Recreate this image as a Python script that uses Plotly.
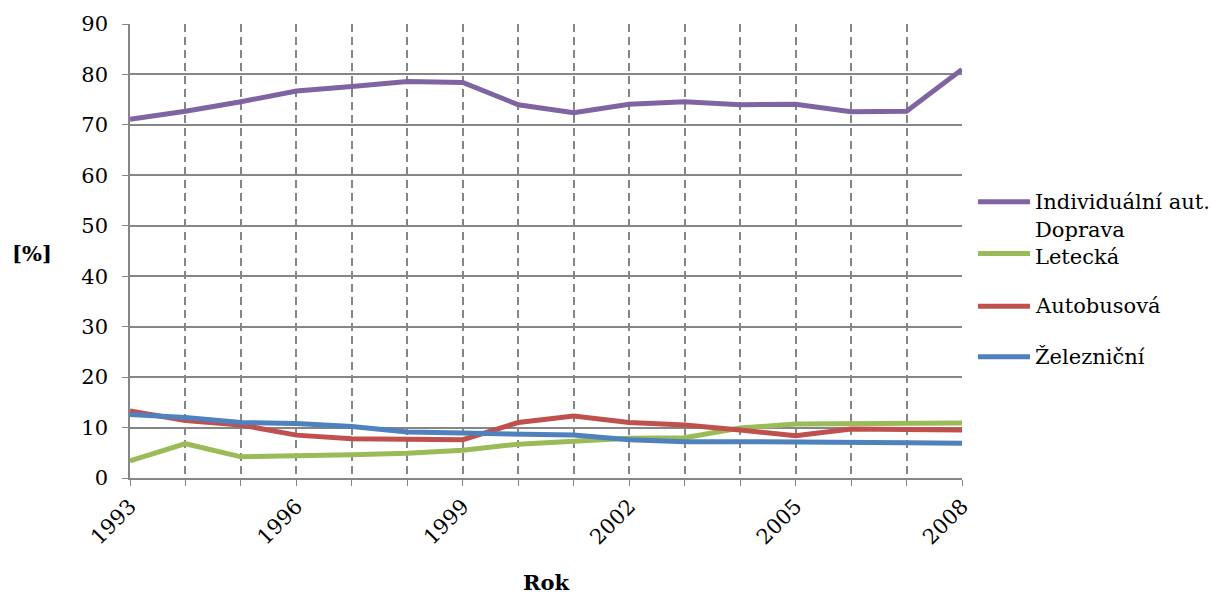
import plotly.graph_objects as go

# Podíl druhů dopravy na přepravních výkonech osobní dopravy [%]
roky = list(range(1993, 2009))
individualni = [71.1, 72.7, 74.6, 76.7, 77.6, 78.6, 78.4, 74.0, 72.4, 74.1, 74.6, 74.0, 74.1, 72.6, 72.7, 81.0]
letecka = [3.4, 6.8, 4.2, 4.3, 4.6, 4.9, 5.5, 6.7, 7.2, 7.9, 8.0, 9.9, 10.7, 10.7, 10.7, 10.9]
autobusova = [13.3, 11.4, 10.5, 8.5, 7.8, 7.8, 7.6, 11.0, 12.3, 11.0, 10.5, 9.5, 8.4, 9.7, 9.5, 9.5]
zeleznicni = [12.6, 12.0, 11.0, 10.8, 10.2, 9.1, 8.9, 8.6, 8.5, 7.6, 7.2, 7.2, 7.2, 7.2, 7.0, 6.9]

nazvy = ["Individuální aut.<br>Doprava", "Letecká", "Autobusová", "Železniční"]
rady = [individualni, letecka, autobusova, zeleznicni]
barvy = ["#8064A2", "#9BBB59", "#C0504D", "#4F81BD"]

FONT = "DejaVu Serif"
W, H = 1211, 594
L, R, T, B = 130, 249, 21, 116
pw, ph = W - L - R, H - T - B

fig = go.Figure()
for nazev, hodnoty, barva in zip(nazvy, rady, barvy):
    fig.add_trace(go.Scatter(x=roky, y=hodnoty, mode="lines", name=nazev,
                             line=dict(color=barva, width=5), showlegend=False))

# legenda vpravo od grafu
def px_x(px):
    return (px - L) / pw

def px_y(py):
    return (H - B - py) / ph

legenda_y = [200, 252, 305, 356]
text_y = [[200, 228], [256], [305], [356]]
for nazev, barva, yy, ty in zip(nazvy, barvy, legenda_y, text_y):
    fig.add_shape(type="line", xref="paper", yref="paper",
                  x0=px_x(978), x1=px_x(1030), y0=px_y(yy), y1=px_y(yy),
                  line=dict(color=barva, width=5))
    for radek, y_txt in zip(nazev.split("<br>"), ty):
        fig.add_annotation(xref="paper", yref="paper", x=px_x(1033), y=px_y(y_txt),
                           text=radek, showarrow=False, xanchor="left", yanchor="middle",
                           font=dict(family=FONT, size=21, color="black"))

fig.add_annotation(xref="paper", yref="paper", x=px_x(32), y=px_y(252),
                   text="<b>[%]</b>", showarrow=False, xanchor="center", yanchor="middle",
                   font=dict(family=FONT, size=21, color="black"))
fig.add_annotation(xref="paper", yref="paper", x=px_x(546), y=px_y(583),
                   text="<b>Rok</b>", showarrow=False, xanchor="center", yanchor="middle",
                   font=dict(family=FONT, size=21, color="black"))

fig.update_layout(
    width=W, height=H,
    margin=dict(l=L, r=R, t=T, b=B),
    paper_bgcolor="white", plot_bgcolor="white",
    font=dict(family=FONT, size=21, color="black"),
    showlegend=False,
)
fig.update_xaxes(
    range=[1993, 2008], tickmode="linear", tick0=1993, dtick=3,
    tickangle=-45, ticks="outside", ticklen=6, tickcolor="#868686",
    tickfont=dict(family=FONT, size=21, color="black"),
    showline=True, linecolor="#868686", linewidth=1.5,
    showgrid=True, gridcolor="#868686", griddash="8px,5px", gridwidth=1.5,
    minor=dict(tick0=1993, dtick=1, ticks="outside", ticklen=6, tickcolor="#868686",
               showgrid=True, gridcolor="#868686", griddash="8px,5px", gridwidth=1.5),
    zeroline=False,
)
fig.update_yaxes(
    range=[0, 90], dtick=10, ticks="outside", ticklen=6, tickcolor="#868686",
    tickfont=dict(family=FONT, size=21, color="black"), ticklabelstandoff=10,
    showline=True, linecolor="#868686", linewidth=1.5,
    showgrid=True, gridcolor="#868686", gridwidth=1.5,
    zeroline=False,
)

fig.write_html("out.html")
